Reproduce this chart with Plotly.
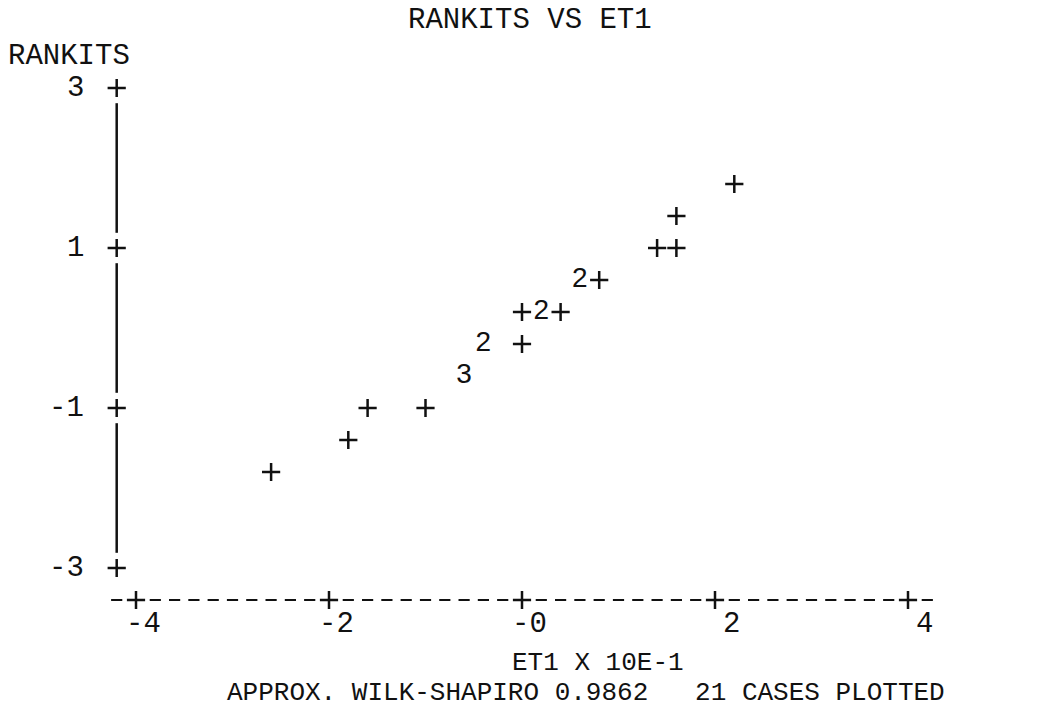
import plotly.graph_objects as go

# ---- data ----
et1 = [-2.6, -1.8, -1.6, -1.0, -0.6, -0.4, 0.0, 0.0, 0.2, 0.4, 0.6, 0.8, 1.4, 1.6, 1.6, 2.2]
rankits = [-1.8, -1.4, -1.0, -1.0, -0.6, -0.2, -0.2, 0.2, 0.2, 0.2, 0.6, 0.6, 1.0, 1.0, 1.4, 1.8]
cases = [1, 1, 1, 1, 3, 2, 1, 1, 2, 1, 2, 1, 1, 1, 1, 1]

x_ticks = [-4, -2, 0, 2, 4]
x_tick_labels = ["-4", "-2", "-0", "2", "4"]
y_ticks = [3, 1, -1, -3]
y_tick_labels = ["3", "1", "-1", "-3"]

W, H = 1039, 709
# pixel geometry of the printout
X0PX, XSCALE = 522.0, 96.5      # px of x=0, px per unit
Y1PX, YSCALE = 248.0, 80.0      # px of y=1, px per unit
x_range = [(0 - X0PX) / XSCALE, (W - X0PX) / XSCALE]
y_range = [1 - (H - Y1PX) / YSCALE, 1 + Y1PX / YSCALE]

COL = 0.2          # one printer column in x units
ROW = 0.4          # one printer row in y units
x_axis_row = min(y_ticks) - ROW
y_axis_col = min(x_ticks) - COL

INK = "#111111"
MONO = "Liberation Mono"
SANS = "Liberation Sans"
FS = 29
FS_FOOT = 26
PLUS = dict(symbol="cross-thin", size=13, line=dict(color=INK, width=2.5))

fig = go.Figure()

# y axis: vertical rule between tick marks
vx, vy = [], []
for a, b in zip(y_ticks[:-1], y_ticks[1:]):
    vx += [y_axis_col, y_axis_col, None]
    vy += [a - 0.19, b + 0.19, None]
fig.add_trace(go.Scatter(x=vx, y=vy, mode="lines", line=dict(color=INK, width=2.5),
                         hoverinfo="skip", showlegend=False))

# x axis: row of dashes with + at ticks
n_cols = int(round((max(x_ticks) - min(x_ticks)) / COL)) + 2
dash_x = [round(min(x_ticks) - COL + i * COL, 1) for i in range(n_cols + 1)]
dash_x = [v for v in dash_x if all(abs(v - t) > 1e-9 for t in x_ticks)]
fig.add_trace(go.Scatter(x=dash_x, y=[x_axis_row] * len(dash_x), mode="markers",
                         marker=dict(symbol="line-ew", size=8, line=dict(color=INK, width=2)),
                         hoverinfo="skip", showlegend=False))
fig.add_trace(go.Scatter(x=x_ticks, y=[x_axis_row] * len(x_ticks), mode="markers",
                         marker=PLUS, hoverinfo="skip", showlegend=False))
fig.add_trace(go.Scatter(x=[y_axis_col] * len(y_ticks), y=y_ticks, mode="markers",
                         marker=PLUS, hoverinfo="skip", showlegend=False))

# data points: '+' for single case, digit for coincident cases
sx = [x for x, c in zip(et1, cases) if c == 1]
sy = [y for y, c in zip(rankits, cases) if c == 1]
fig.add_trace(go.Scatter(x=sx, y=sy, mode="markers", marker=PLUS,
                         name="1 case", showlegend=False))
mx = [x for x, c in zip(et1, cases) if c > 1]
my = [y for y, c in zip(rankits, cases) if c > 1]
mt = [str(c) for c in cases if c > 1]
fig.add_trace(go.Scatter(x=mx, y=my, mode="text", text=mt, textposition="middle center",
                         textfont=dict(family=SANS, size=28, color=INK),
                         name="multiple cases", showlegend=False))

def paper(px, py):
    return px / W, 1 - py / H

annotations = []
# y tick labels, right-aligned two columns left of the axis
for v, lab in zip(y_ticks, y_tick_labels):
    annotations.append(dict(x=y_axis_col - 2 * COL, y=v, xref="x", yref="y", text=lab,
                            showarrow=False, xanchor="right", yanchor="middle",
                            xshift=8, font=dict(family=MONO, size=FS, color=INK)))
# x tick labels: last character one column right of the tick
for v, lab in zip(x_ticks, x_tick_labels):
    annotations.append(dict(x=v + COL, y=x_axis_row - ROW * 0.75, xref="x", yref="y", text=lab,
                            showarrow=False, xanchor="right", yanchor="middle",
                            xshift=8, font=dict(family=MONO, size=FS, color=INK)))

def label(text, px, py, anchor="center", size=FS):
    x, y = paper(px, py)
    annotations.append(dict(x=x, y=y, xref="paper", yref="paper", text=text, showarrow=False,
                            xanchor=anchor, yanchor="middle",
                            font=dict(family=MONO, size=size, color=INK)))

label("RANKITS VS ET1", 530, 21)
label("RANKITS", 6, 57, "left")
label("ET1 X 10E-1", 598, 663, size=FS_FOOT)
label("APPROX. WILK-SHAPIRO 0.9862   21 CASES PLOTTED", 586, 693, size=FS_FOOT)

fig.update_layout(
    width=W, height=H,
    margin=dict(l=0, r=0, t=0, b=0),
    paper_bgcolor="white", plot_bgcolor="white",
    xaxis=dict(range=x_range, visible=False, fixedrange=True),
    yaxis=dict(range=y_range, visible=False, fixedrange=True),
    annotations=annotations,
    showlegend=False,
)

fig.write_html("out.html", config={"displayModeBar": False},
               post_script="document.body.style.margin='0';document.body.style.overflow='hidden';")
